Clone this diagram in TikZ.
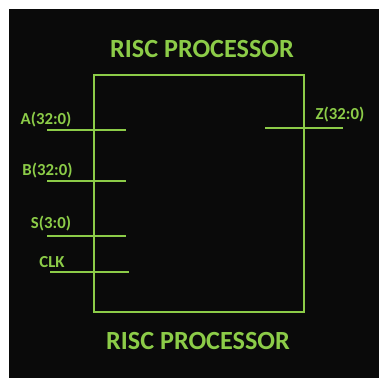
\documentclass[tikz,border=0pt]{standalone}
\usepackage{fontspec}
\setmainfont{Carlito}
\definecolor{lg}{RGB}{140,204,72}
\begin{document}
\begin{tikzpicture}[x=1pt,y=-1pt,
  wire/.style={draw=lg,line width=2pt},
  lbl/.style={text=lg,font=\bfseries\fontsize{16.8}{18}\selectfont,inner sep=0pt},
  ttl/.style={text=lg,font=\bfseries\fontsize{26.2}{30}\selectfont,inner sep=0pt}]
\useasboundingbox (0,0) rectangle (379,378);
\fill[white] (0,0) rectangle (379,378);
\fill[black!96] (9,9) rectangle (379,378);
\node[ttl] (t1) at (202,49) {RISC PROCESSOR};
\node[ttl] (t2) at (198,341) {RISC PROCESSOR};
\node[draw=lg,line width=2pt,minimum width=210pt,minimum height=237pt,inner sep=0pt] (cpu) at (199,193.5) {};
\coordinate (a0) at (47,130); \coordinate (a1) at (126,130);
\coordinate (b0) at (47,181); \coordinate (b1) at (126,181);
\coordinate (s0) at (47,236); \coordinate (s1) at (126,236);
\coordinate (c0) at (50,272); \coordinate (c1) at (129,272);
\coordinate (z0) at (265,128); \coordinate (z1) at (343,128);
\draw[wire] (a0) -- (a1);
\draw[wire] (b0) -- (b1);
\draw[wire] (s0) -- (s1);
\draw[wire] (c0) -- (c1);
\draw[wire] (z0) -- (z1);
\node[lbl] (la) at (46,120) {A(32:0)};
\node[lbl] (lb) at (47.5,171) {B(32:0)};
\node[lbl] (ls) at (51,224) {S(3:0)};
\node[lbl] (lc) at (52,262) {CLK};
\node[lbl] (lz) at (340,115) {Z(32:0)};
\end{tikzpicture}
\end{document}
